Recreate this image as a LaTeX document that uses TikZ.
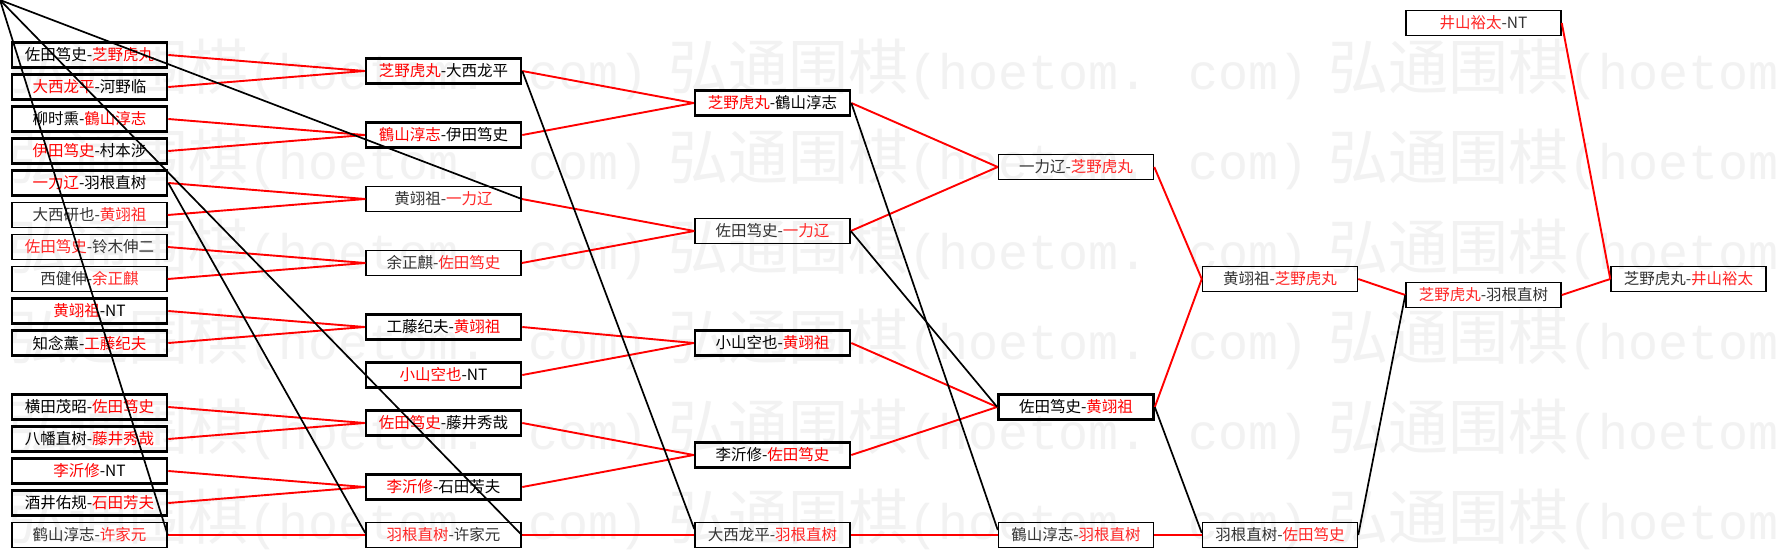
\documentclass[tikz,border=0pt]{standalone}
\usepackage{fontspec}
\newfontfamily\cjkf{Noto Sans CJK SC}
\newfontfamily\wmono{Liberation Mono}
\colorlet{winc}{red}
\newcommand\rtx[1]{\textcolor{winc}{#1}}
\newcommand\wmtext{{\cjkf\fontsize{60}{60}\selectfont 弘通围棋}{\wmono\fontsize{50}{50}\selectfont (hoetom. com)}}
\tikzset{
  boxbase/.style={rectangle, draw=black, minimum width=155pt, minimum height=25pt, inner sep=0pt},
  bthick/.style={boxbase, line width=2.6pt, text=black, font=\cjkf\fontsize{15.5}{16}\selectfont\colorlet{winc}{red}},
  bthin/.style={boxbase, line width=1.5pt, text=black!80, font=\cjkf\fontsize{15.5}{16}\selectfont\colorlet{winc}{red!85}},
  rline/.style={draw=red, line width=1.9pt},
  kline/.style={draw=black, line width=1.7pt},
  wmark/.style={anchor=base west, inner sep=0pt, text=black!5}
}
\begin{document}
\begin{tikzpicture}[x=1pt,y=-1pt]
\useasboundingbox (0,0) rectangle (1776,557);
\fill[white] (0,0) rectangle (1776,557);
% watermark
\begin{scope}
\clip (0,0) rectangle (1776,557);
\foreach \k in {0,...,5}{
  \foreach \j in {0,1,2}{
    \node[wmark] (wm-\k-\j) at (8+660*\j, 89+90*\k) {\wmtext};
  }
}
\end{scope}
\coordinate (o) at (0,0);
% column 1
\node[bthick] (a1) at (89.5,55) {佐田笃史-\rtx{芝野虎丸}};
\node[bthick] (a2) at (89.5,87) {\rtx{大西龙平}-河野临};
\node[bthick] (a3) at (89.5,119) {柳时熏-\rtx{鶴山淳志}};
\node[bthick] (a4) at (89.5,151) {\rtx{伊田笃史}-村本涉};
\node[bthick] (a5) at (89.5,183) {\rtx{一力辽}-羽根直树};
\node[bthin] (a6) at (89.5,215) {大西研也-\rtx{黄翊祖}};
\node[bthin] (a7) at (89.5,247) {\rtx{佐田笃史}-铃木伸二};
\node[bthin] (a8) at (89.5,279) {西健伸-\rtx{余正麒}};
\node[bthick] (a9) at (89.5,311) {\rtx{黄翊祖}-NT};
\node[bthick] (a10) at (89.5,343) {知念薰-\rtx{工藤纪夫}};
\node[bthick] (a11) at (89.5,407) {横田茂昭-\rtx{佐田笃史}};
\node[bthick] (a12) at (89.5,439) {八幡直树-\rtx{藤井秀哉}};
\node[bthick] (a13) at (89.5,471) {\rtx{李沂修}-NT};
\node[bthick] (a14) at (89.5,503) {酒井佑规-\rtx{石田芳夫}};
\node[bthin] (a15) at (89.5,535) {鹤山淳志-\rtx{许家元}};
% column 2
\node[bthick] (b1) at (443.5,71) {\rtx{芝野虎丸}-大西龙平};
\node[bthick] (b2) at (443.5,135) {\rtx{鶴山淳志}-伊田笃史};
\node[bthin] (b3) at (443.5,199) {黄翊祖-\rtx{一力辽}};
\node[bthin] (b4) at (443.5,263) {余正麒-\rtx{佐田笃史}};
\node[bthick] (b5) at (443.5,327) {工藤纪夫-\rtx{黄翊祖}};
\node[bthick] (b6) at (443.5,375) {\rtx{小山空也}-NT};
\node[bthick] (b7) at (443.5,423) {\rtx{佐田笃史}-藤井秀哉};
\node[bthick] (b8) at (443.5,487) {\rtx{李沂修}-石田芳夫};
\node[bthin] (b9) at (443.5,535) {\rtx{羽根直树}-许家元};
% column 3
\node[bthick] (c1) at (772.5,103) {\rtx{芝野虎丸}-鶴山淳志};
\node[bthin] (c2) at (772.5,231) {佐田笃史-\rtx{一力辽}};
\node[bthick] (c3) at (772.5,343) {小山空也-\rtx{黄翊祖}};
\node[bthick] (c4) at (772.5,455) {李沂修-\rtx{佐田笃史}};
\node[bthin] (c5) at (772.5,535) {大西龙平-\rtx{羽根直树}};
% column 4
\node[bthin] (d1) at (1076,167) {一力辽-\rtx{芝野虎丸}};
\node[bthick] (d2) at (1076,407) {佐田笃史-\rtx{黄翊祖}};
\node[bthin] (d3) at (1076,535) {鶴山淳志-\rtx{羽根直树}};
% column 5
\node[bthin] (e1) at (1280,279) {黄翊祖-\rtx{芝野虎丸}};
\node[bthin] (e2) at (1280,535) {羽根直树-\rtx{佐田笃史}};
% column 6
\node[bthin] (f0) at (1483.5,23) {\rtx{井山裕太}-NT};
\node[bthin] (f1) at (1483.5,295) {\rtx{芝野虎丸}-羽根直树};
% column 7
\node[bthin] (g1) at (1688.5,279) {芝野虎丸-\rtx{井山裕太}};
% red (winner) connectors
\foreach \s/\t in {a1/b1,a2/b1,a3/b2,a4/b2,a5/b3,a6/b3,a7/b4,a8/b4,a9/b5,a10/b5,a11/b7,a12/b7,a13/b8,a14/b8,a15/b9,
  b1/c1,b2/c1,b3/c2,b4/c2,b5/c3,b6/c3,b7/c4,b8/c4,b9/c5,
  c1/d1,c2/d1,c3/d2,c4/d2,c5/d3,
  d1/e1,d2/e1,d3/e2,
  e1/f1,f1/g1,f0/g1}{
  \draw[rline] (\s.east) -- (\t.west);
}
% black connectors
\draw[kline] (o) -- (a15.east);
\draw[kline] (o) -- (b3.east);
\draw[kline] (o) -- (b9.east);
\draw[kline] (a5.east) -- ([yshift=2pt]b9.west);
\draw[kline] (b1.east) -- ([yshift=6pt]c5.west);
\draw[kline] (c1.east) -- ([yshift=5pt]d3.west);
\draw[kline] (c2.east) -- (d2.west);
\draw[kline] (d2.east) -- ([yshift=2pt]e2.west);
\draw[kline] (e2.east) -- (f1.west);
\end{tikzpicture}
\end{document}
